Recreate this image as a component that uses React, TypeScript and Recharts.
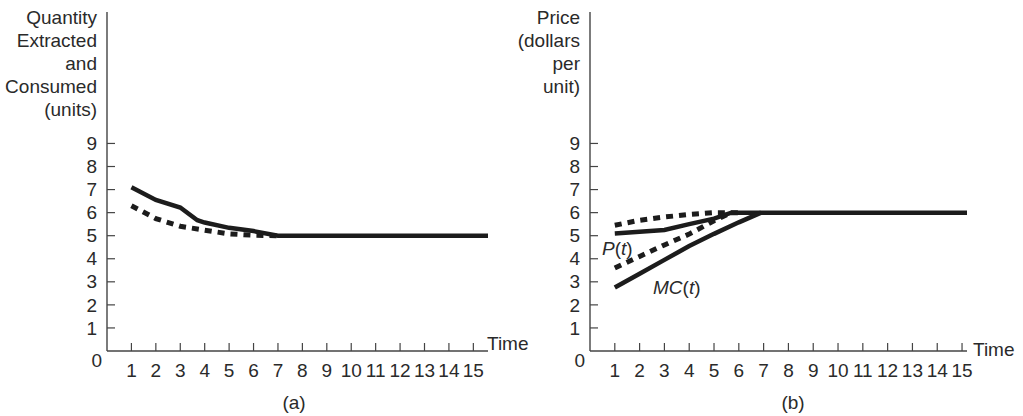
import React from "react";
import { LineChart, Line, XAxis, YAxis } from "recharts";

// time ticks shared by both panels
const timeTicks = [1, 2, 3, 4, 5, 6, 7, 8, 9, 10, 11, 12, 13, 14, 15];
const valueTicks = [0, 1, 2, 3, 4, 5, 6, 7, 8, 9];

// (a) quantity extracted and consumed
const qSolidTime = [1, 2, 3, 3.7, 4, 5, 6, 7, 15.6];
const qSolidValue = [7.1, 6.55, 6.22, 5.67, 5.57, 5.34, 5.2, 5.0, 5.0];
const qDashTime = [1, 2, 3, 4, 5, 6, 7];
const qDashValue = [6.3, 5.74, 5.41, 5.24, 5.08, 5.02, 5.0];

// (b) price and marginal cost
const pSolidTime = [1, 2, 3, 4, 5, 5.7, 15.2];
const pSolidValue = [5.1, 5.17, 5.25, 5.5, 5.74, 6.0, 6.0];
const pDashTime = [1, 2, 3, 4, 5, 6];
const pDashValue = [5.45, 5.67, 5.81, 5.92, 6.0, 6.0];
const mcDashTime = [1, 2, 3, 4, 5, 5.7];
const mcDashValue = [3.6, 4.1, 4.6, 5.07, 5.65, 6.0];
const mcSolidTime = [1, 2, 3, 4, 5, 6, 6.9];
const mcSolidValue = [2.75, 3.35, 3.95, 4.55, 5.08, 5.58, 6.0];

const toRows = (t: number[], v: number[]) => t.map((x, i) => ({ t: x, v: v[i] }));

const FONT = "'Liberation Sans', Arial, Helvetica, sans-serif";
const INK = "#1c1c1c";
const TXT = "#2a2a2a";

const YTick = (props: any) => {
    const { x, y, payload } = props;
    if (payload.value === 0) {
        return (
            <text x={x - 5} y={y + 9} dy="0.35em" textAnchor="end" fontSize={19} fill={TXT} fontFamily={FONT}>
                0
            </text>
        );
    }
    return (
        <g>
            <line x1={x} x2={x + 8} y1={y} y2={y} stroke="#444" strokeWidth={1.2} />
            <text x={x - 10} y={y} dy="0.35em" textAnchor="end" fontSize={19} fill={TXT} fontFamily={FONT}>
                {payload.value}
            </text>
        </g>
    );
};

const XTick = (props: any) => {
    const { x, y, payload } = props;
    return (
        <g>
            <line x1={x} x2={x} y1={y} y2={y - 8} stroke="#444" strokeWidth={1.2} />
            <text x={x} y={y + 19} dy="0.35em" textAnchor="middle" fontSize={19} fill={TXT} fontFamily={FONT}>
                {payload.value}
            </text>
        </g>
    );
};

const Panel: React.FC<{
    width: number;
    axisLeft: number;
    marginRight: number;
    xMax: number;
    children: React.ReactNode;
}> = ({ width, axisLeft, marginRight, xMax, children }) => (
    <LineChart width={width} height={416} margin={{ top: 12, right: marginRight, bottom: 0, left: 0 }}>
        <XAxis
            type="number"
            dataKey="t"
            domain={[0, xMax]}
            ticks={timeTicks}
            height={65}
            tickSize={0}
            tickMargin={0}
            tickLine={false}
            tick={<XTick />}
            axisLine={{ stroke: "#444", strokeWidth: 1.4 }}
            interval={0}
        />
        <YAxis
            type="number"
            domain={[0, 14.7]}
            ticks={valueTicks}
            width={axisLeft}
            tickSize={0}
            tickMargin={0}
            tickLine={false}
            tick={<YTick />}
            axisLine={{ stroke: "#444", strokeWidth: 1.4 }}
            interval={0}
        />
        {children}
    </LineChart>
);

const solidProps = { stroke: INK, strokeWidth: 4.5, dot: false, type: "linear" as const, isAnimationActive: false };
const dashProps = { ...solidProps, strokeWidth: 5, strokeDasharray: "7 6" };

const txt: React.CSSProperties = { position: "absolute", fontFamily: FONT, fontSize: 19, color: TXT, lineHeight: "23px", whiteSpace: "nowrap" };

export default function App() {
    return (
        <div style={{ position: "absolute", left: 0, top: 0, width: 1023, height: 416, background: "#fff", overflow: "hidden" }}>
            <div style={{ position: "absolute", left: 0, top: 0 }}>
                <Panel width={520} axisLeft={107} marginRight={32} xMax={15.6}>
                    <Line {...dashProps} data={toRows(qDashTime, qDashValue)} dataKey="v" />
                    <Line {...solidProps} data={toRows(qSolidTime, qSolidValue)} dataKey="v" />
                </Panel>
            </div>
            <div style={{ position: "absolute", left: 520, top: 0 }}>
                <Panel width={503} axisLeft={70} marginRight={56} xMax={15.2}>
                    <Line {...dashProps} data={toRows(pDashTime, pDashValue)} dataKey="v" />
                    <Line {...dashProps} data={toRows(mcDashTime, mcDashValue)} dataKey="v" />
                    <Line {...solidProps} data={toRows(pSolidTime, pSolidValue)} dataKey="v" />
                    <Line {...solidProps} data={toRows(mcSolidTime, mcSolidValue)} dataKey="v" />
                </Panel>
            </div>

            <div style={{ ...txt, right: 1023 - 97, top: 5.5, textAlign: "right" }}>
                Quantity<br />Extracted<br />and<br />Consumed<br />(units)
            </div>
            <div style={{ ...txt, right: 1023 - 580, top: 5.5, textAlign: "right" }}>
                Price<br />(dollars<br />per<br />unit)
            </div>

            <div style={{ ...txt, left: 487, top: 343 - 11.5 }}>Time</div>
            <div style={{ ...txt, left: 973, top: 349 - 11.5 }}>Time</div>

            <div style={{ ...txt, left: 294, top: 402 - 11.5, transform: "translateX(-50%)" }}>(a)</div>
            <div style={{ ...txt, left: 793, top: 402 - 11.5, transform: "translateX(-50%)" }}>(b)</div>

            <div style={{ ...txt, left: 602, top: 248 - 11.5 }}>
                <i>P</i>(<i>t</i>)
            </div>
            <div style={{ ...txt, left: 653, top: 287 - 11.5 }}>
                <i>MC</i>(<i>t</i>)
            </div>
        </div>
    );
}
